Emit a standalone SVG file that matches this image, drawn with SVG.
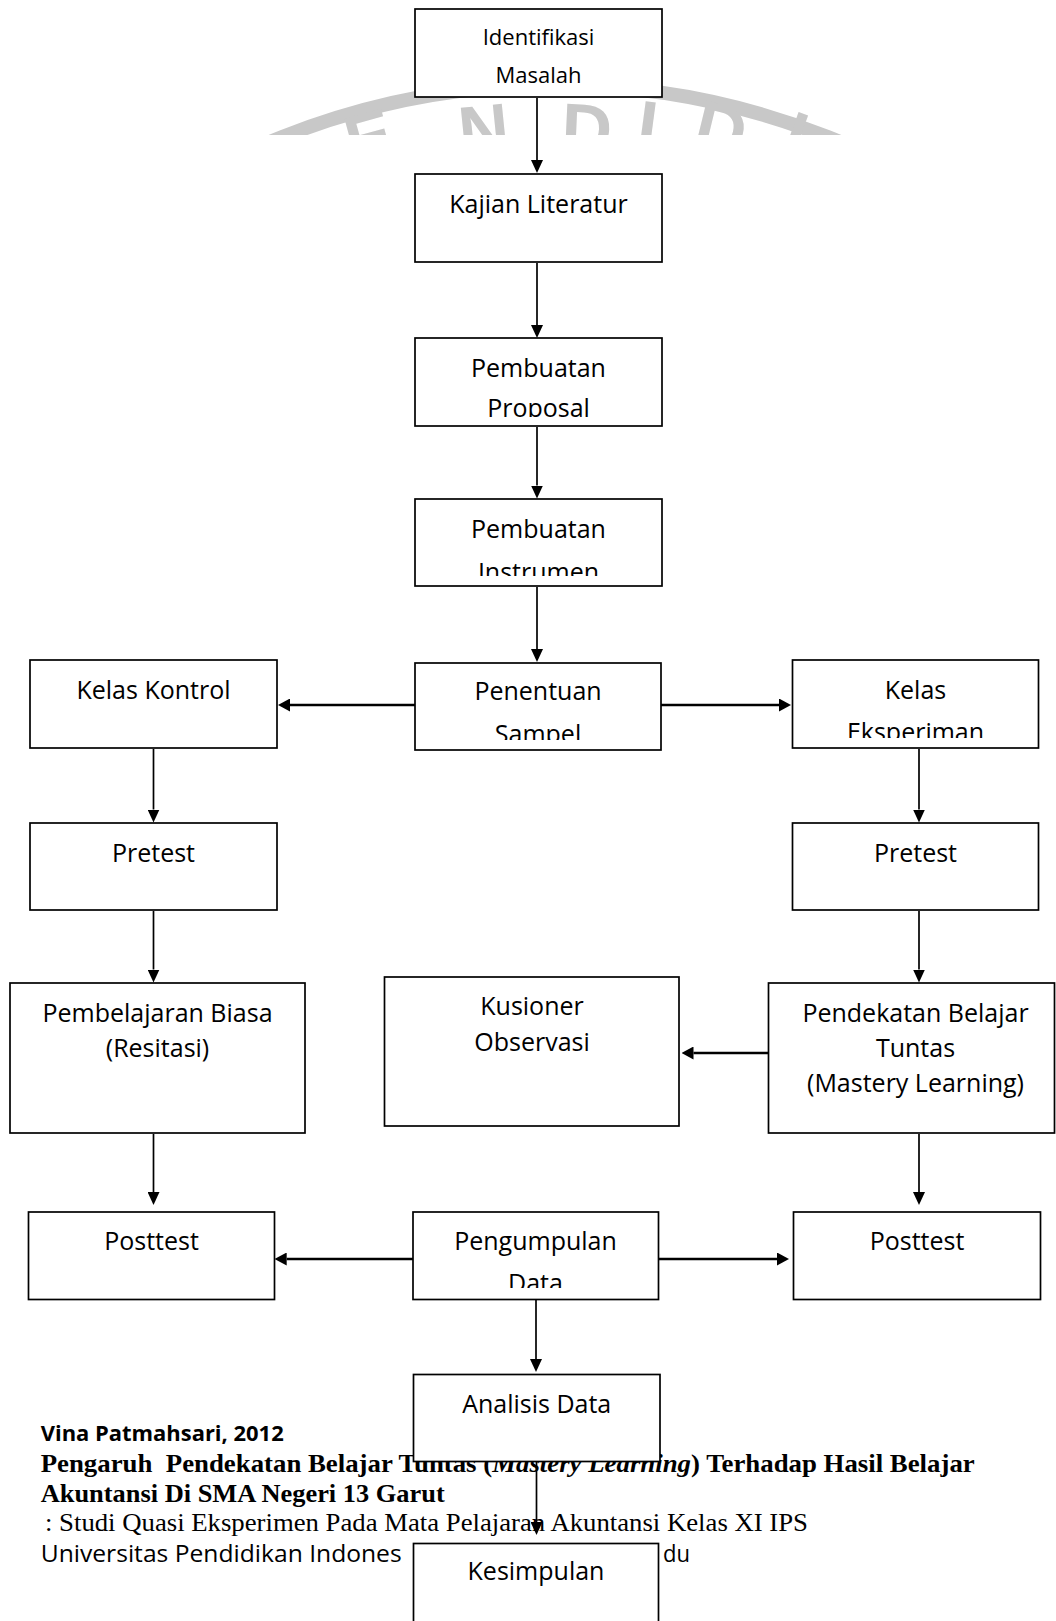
<svg xmlns="http://www.w3.org/2000/svg" width="1056" height="1621" viewBox="0 0 1056 1621">
<style>
.box{fill:#fff;stroke:#000;stroke-width:1.7}
.lbl{font-family:"Open Sans","Noto Sans","DejaVu Sans",sans-serif;font-size:25px;fill:#000;text-anchor:middle}
.sm{font-size:22px}
.con{stroke:#000;stroke-width:1.7;fill:none;marker-end:url(#ah)}
.hcon{stroke:#000;stroke-width:2.6;fill:none;marker-end:url(#hh)}
.ser{font-family:"Liberation Serif","Times New Roman",serif;font-size:25px;fill:#000}
.sans{font-family:"Open Sans","Noto Sans",sans-serif;fill:#000}
.wml{font-family:"Liberation Sans",Arial,sans-serif;font-weight:bold;font-size:70px;fill:#c8c8c8;text-anchor:middle}
</style>
<defs>
<marker id="ah" viewBox="0 0 13 12" refX="0" refY="6" markerWidth="13" markerHeight="12" markerUnits="userSpaceOnUse" orient="auto"><path d="M0,0 L13,6 L0,12 z" fill="#000"/></marker>
<marker id="hh" viewBox="0 0 12 13" refX="0" refY="6.5" markerWidth="12" markerHeight="13" markerUnits="userSpaceOnUse" orient="auto"><path d="M0,0 L12,6.5 L0,13 z" fill="#000"/></marker>
<clipPath id="wm"><rect x="0" y="0" width="1056" height="135"/></clipPath>
<clipPath id="c3"><rect x="415" y="338" width="247" height="79"/></clipPath>
<clipPath id="c4"><rect x="415" y="499" width="247" height="77"/></clipPath>
<clipPath id="c5"><rect x="415" y="663" width="246" height="77"/></clipPath>
<clipPath id="c7"><rect x="792" y="660" width="247" height="78"/></clipPath>
<clipPath id="c14"><rect x="413" y="1212" width="246" height="76"/></clipPath>
</defs>
<rect width="1056" height="1621" fill="#fff"/>

<g id="watermark" clip-path="url(#wm)">
<circle cx="555" cy="826" r="741" fill="none" stroke="#c8c8c8" stroke-width="14"/>
<text class="wml" x="375.3" y="160.2" transform="rotate(-15.4 375.3 160.2)">E</text>
<text class="wml" x="486.1" y="153.8" transform="rotate(-5.8 486.1 153.8)">N</text>
<text class="wml" x="585.7" y="153" transform="rotate(2.6 585.7 153)">D</text>
<text class="wml" x="644.4" y="149.6" transform="rotate(7.6 644.4 149.6)">I</text>
<text class="wml" x="715.2" y="152.6" transform="rotate(13.7 715.2 152.6)">D</text>
<text class="wml" x="786.9" y="159" transform="rotate(20 786.9 159)">I</text>
</g>

<g id="footer">
<text class="sans" x="40.7" y="1440.7" font-size="22" font-weight="bold" textLength="243" lengthAdjust="spacingAndGlyphs">Vina Patmahsari, 2012</text>
<text class="ser" x="40.7" y="1471.7" font-weight="bold" xml:space="preserve" textLength="934" lengthAdjust="spacingAndGlyphs">Pengaruh  Pendekatan Belajar Tuntas (<tspan font-style="italic">Mastery Learning</tspan>) Terhadap Hasil Belajar</text>
<text class="ser" x="40.7" y="1501.7" font-weight="bold" textLength="404" lengthAdjust="spacingAndGlyphs">Akuntansi Di SMA Negeri 13 Garut</text>
<text class="ser" x="45" y="1530.5" textLength="763" lengthAdjust="spacingAndGlyphs">: Studi Quasi Eksperimen Pada Mata Pelajaran Akuntansi Kelas XI IPS</text>
<text class="sans" x="40.7" y="1561.7" font-size="23" textLength="361" lengthAdjust="spacingAndGlyphs">Universitas Pendidikan Indones</text>
<text class="sans" x="663" y="1561.7" font-size="23" textLength="27" lengthAdjust="spacingAndGlyphs">du</text>
</g>

<g id="connectors">
<line class="con" x1="537" y1="98" x2="537" y2="160"/>
<line class="con" x1="537" y1="263" x2="537" y2="325"/>
<line class="con" x1="537" y1="427" x2="537" y2="485.5"/>
<line class="con" x1="537" y1="587" x2="537" y2="649"/>
<line class="hcon" x1="415" y1="705" x2="290" y2="705"/>
<line class="hcon" x1="661" y1="705" x2="779" y2="705"/>
<line class="con" x1="153.5" y1="749" x2="153.5" y2="809.5"/>
<line class="con" x1="919" y1="749" x2="919" y2="809.5"/>
<line class="con" x1="153.5" y1="911" x2="153.5" y2="969.5"/>
<line class="con" x1="919" y1="911" x2="919" y2="969.5"/>
<line class="hcon" x1="768.5" y1="1053" x2="693.5" y2="1053"/>
<line class="con" x1="153.5" y1="1134" x2="153.5" y2="1192"/>
<line class="con" x1="919" y1="1134" x2="919" y2="1192"/>
<line class="hcon" x1="413" y1="1259" x2="286.7" y2="1259"/>
<line class="hcon" x1="658.5" y1="1259" x2="777" y2="1259"/>
<line class="con" x1="536" y1="1300" x2="536" y2="1359"/>
</g>

<g id="n1"><rect class="box" x="415" y="9" width="247" height="88"/><text class="lbl sm" x="538.5" y="45">Identifikasi</text><text class="lbl sm" x="538.5" y="82.7">Masalah</text></g>
<g id="n2"><rect class="box" x="415" y="174" width="247" height="88"/><text class="lbl" x="538.5" y="213">Kajian Literatur</text></g>
<g id="n3"><rect class="box" x="415" y="338" width="247" height="88"/><text class="lbl" x="538.5" y="376.7">Pembuatan</text><text class="lbl" x="538.5" y="417" clip-path="url(#c3)">Proposal</text></g>
<g id="n4"><rect class="box" x="415" y="499" width="247" height="87"/><text class="lbl" x="538.5" y="538.3">Pembuatan</text><text class="lbl" x="538.5" y="581" clip-path="url(#c4)">Instrumen</text></g>
<g id="n5"><rect class="box" x="415" y="663" width="246" height="87"/><text class="lbl" x="538" y="700">Penentuan</text><text class="lbl" x="538" y="743" clip-path="url(#c5)">Sampel</text></g>
<g id="n6"><rect class="box" x="30" y="660" width="247" height="88"/><text class="lbl" x="153.5" y="699">Kelas Kontrol</text></g>
<g id="n7"><rect class="box" x="792.5" y="660" width="246" height="88"/><text class="lbl" x="915.5" y="699">Kelas</text><text class="lbl" x="915.5" y="741" clip-path="url(#c7)">Eksperiman</text></g>
<g id="n8"><rect class="box" x="30" y="823" width="247" height="87"/><text class="lbl" x="153.5" y="861.7">Pretest</text></g>
<g id="n9"><rect class="box" x="792.5" y="823" width="246" height="87"/><text class="lbl" x="915.5" y="861.7">Pretest</text></g>
<g id="n10"><rect class="box" x="10" y="983" width="295" height="150"/><text class="lbl" x="157.5" y="1021.7">Pembelajaran Biasa</text><text class="lbl" x="157.5" y="1056.7">(Resitasi)</text></g>
<g id="n11"><rect class="box" x="384.5" y="977" width="294.5" height="149"/><text class="lbl" x="532" y="1015">Kusioner</text><text class="lbl" x="532" y="1050.7">Observasi</text></g>
<g id="n12"><rect class="box" x="768.5" y="983" width="286" height="150"/><text class="lbl" x="915.5" y="1021.7">Pendekatan Belajar</text><text class="lbl" x="915.5" y="1056.7">Tuntas</text><text class="lbl" x="915.5" y="1091.7">(Mastery Learning)</text></g>
<g id="n13"><rect class="box" x="28.5" y="1212" width="246" height="87.5"/><text class="lbl" x="151.5" y="1250">Posttest</text></g>
<g id="n14"><rect class="box" x="413" y="1212" width="245.5" height="87.5"/><text class="lbl" x="535.5" y="1250">Pengumpulan</text><text class="lbl" x="535.5" y="1292" clip-path="url(#c14)">Data</text></g>
<g id="n15"><rect class="box" x="793.5" y="1212" width="247" height="87.5"/><text class="lbl" x="917" y="1250">Posttest</text></g>
<g id="n16"><rect class="box" x="413.5" y="1374.5" width="246.5" height="87"/><text class="lbl" x="536.7" y="1413.3">Analisis Data</text></g>
<g id="n17"><rect class="box" x="413.5" y="1543.5" width="245" height="100"/><text class="lbl" x="536" y="1580">Kesimpulan</text></g>

<g id="connectors2">
<line class="con" x1="536.5" y1="1462" x2="536.5" y2="1522"/>
</g>
</svg>
